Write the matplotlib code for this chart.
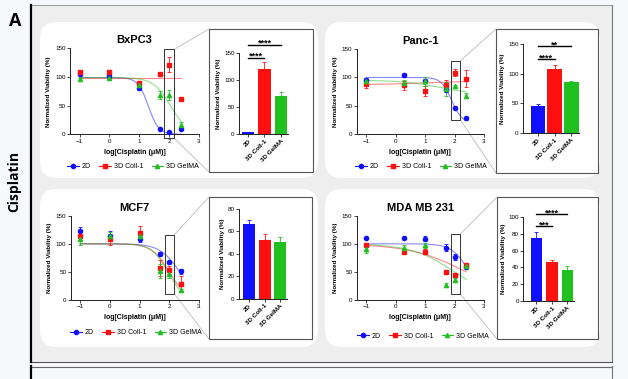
import numpy as np
import matplotlib
matplotlib.use("Agg")
import matplotlib.pyplot as plt
from matplotlib.patches import FancyBboxPatch, Rectangle
from matplotlib.lines import Line2D

plt.rcParams['font.family'] = ['Liberation Sans', 'DejaVu Sans']

W, H = 628, 379

# ---- data ----
groups = ['2D', '3D Coll-1', '3D GelMA']
colors = ['#1010ff', '#ff1010', '#20c020']
markers = ['o', 's', '^']

x_a = [-1, 0, 1, 1.7, 2, 2.4]      # BxPC3, MCF7
x_b = [-1, 0.3, 1, 1.7, 2, 2.4]    # Panc-1, MDA MB 231

bx_mean = [[105, 102, 81, 9, 4, 10],
           [109, 108, 89, 105, 121, 62],
           [96, 99, 86, 69, 69, 16]]
bx_err = [[3, 3, 3, 2, 2, 3],
          [3, 3, 4, 4, 13, 3],
          [3, 2, 3, 7, 9, 5]]
bx_fit = [(99, 0, 1.3, 2.5), (99, 99, 1.0, 1.0), (99, 0, 2.05, 1.5)]
bx_bar = [3, 121, 70]
bx_bar_err = [1, 13, 7]

pa_mean = [[95, 104, 94, 78, 47, 28],
           [88, 86, 76, 87, 108, 98],
           [93, 90, 93, 80, 85, 68]]
pa_err = [[4, 4, 3, 4, 2, 2],
          [7, 8, 9, 8, 6, 15],
          [5, 5, 8, 12, 2, 5]]
pa_fit = [(100, 20, 1.9, 2.5), (87, 94, 1.0, 0.5), (95, 70, 1.5, 0.7)]
pa_bar = [46, 108, 86]
pa_bar_err = [3, 7, 1]

mc_mean = [[123, 114, 108, 82, 67, 51],
           [114, 108, 120, 57, 53, 29],
           [108, 113, 114, 52, 46, 17]]
mc_err = [[7, 8, 5, 3, 3, 4],
          [8, 10, 12, 15, 7, 13],
          [10, 8, 6, 12, 6, 3]]
mc_fit = [(100, 0, 2.35, 1.3), (100, 0, 2.0, 1.5), (100, 0, 1.95, 1.6)]
mc_bar = [67, 52, 51]
mc_bar_err = [3, 5.5, 4]

md_mean = [[110, 110, 109, 93, 76, 59],
           [97, 86, 86, 49, 45, 63],
           [90, 92, 97, 27, 36, 60]]
md_err = [[2, 2, 4, 6, 5, 3],
          [3, 3, 4, 2, 2, 3],
          [6, 5, 4, 3, 3, 3]]
md_fit = [(100, 0, 2.5, 1.5), (100, 0, 2.4, 0.45), (100, 0, 2.0, 0.6)]
md_bar = [75, 46, 37]
md_bar_err = [7, 2.5, 5]

fig = plt.figure(figsize=(W / 100, H / 100), dpi=100)
fig.patch.set_facecolor('#f7f8fc')
T = fig.dpi_scale_trans


def P(x, y):
    return x / 100, (H - y) / 100


def add_rect(x0, y0, x1, y1, **kw):
    r = Rectangle(P(x0, y1), (x1 - x0) / 100, (y1 - y0) / 100, transform=T, **kw)
    fig.add_artist(r)


def add_line(xs, ys, **kw):
    pts = [P(a, b) for a, b in zip(xs, ys)]
    fig.add_artist(Line2D([p[0] for p in pts], [p[1] for p in pts], transform=T, **kw))


def ax_px(x0, y0, x1, y1):
    a = fig.add_axes([x0 / W, 1 - y1 / H, (x1 - x0) / W, (y1 - y0) / H])
    a.set_facecolor('none')
    return a


# frame
add_rect(30, 5, 612, 362, facecolor='#eeeeee', edgecolor='none', zorder=-5)
add_line([30, 612], [5, 5], color='#9a9a9a', lw=0.7, zorder=-4)
add_line([612, 612], [5, 362], color='#777777', lw=0.8, zorder=-4)
add_line([30, 612], [362, 362], color='#555555', lw=0.8, zorder=-4)
add_line([30.5, 30.5], [5, 362], color='black', lw=1.6, zorder=-4)
add_line([30, 612], [366.5, 366.5], color='#666666', lw=0.8, zorder=-4)
add_line([30.5, 30.5], [366, 379], color='black', lw=1.6, zorder=-4)
add_line([612, 612], [366, 379], color='#777777', lw=0.8, zorder=-4)

fig.text(*P(15, 21), 'A', transform=T, fontsize=13, weight='bold',
         ha='center', va='center', family=['Open Sans', 'DejaVu Sans'])
fig.text(*P(14, 182), 'Cisplatin', transform=T, fontsize=10, weight='bold',
         rotation=90, ha='center', va='center', family=['Open Sans', 'DejaVu Sans'])


def four_pl(x, p):
    top, bottom, logic, h = p
    return bottom + (top - bottom) / (1 + 10 ** ((x - logic) * h))


def style(ax):
    for s in ['top', 'right']:
        ax.spines[s].set_visible(False)
    for s in ['left', 'bottom']:
        ax.spines[s].set_linewidth(0.7)
        ax.spines[s].set_color('#222222')
    ax.tick_params(length=2, width=0.6, pad=1.2, labelsize=4.5, color='#222222')


def panel(box, line_rect, bar_rect, inset, title, xs, means, errs, fits,
          bar_vals, bar_errs, bar_xlim, bar_w, bar_ylim, bar_ticks, sigs,
          zoom, legend_xy):
    x0, y0, x1, y1 = box
    fig.add_artist(FancyBboxPatch(P(x0, y1), (x1 - x0) / 100, (y1 - y0) / 100,
                                  boxstyle='round,pad=0,rounding_size=0.17',
                                  transform=T, facecolor='white', edgecolor='none',
                                  zorder=-3))
    # dose response
    ax = ax_px(*line_rect)
    style(ax)
    xx = np.linspace(-1, 2.4, 200)
    for g in range(3):
        ax.plot(xx, four_pl(xx, fits[g]), color=colors[g], lw=0.8, alpha=0.5, zorder=2)
        ax.errorbar(xs, means[g], yerr=errs[g], fmt=markers[g], color=colors[g],
                    ms=3, elinewidth=0.6, capsize=1.2, capthick=0.6, clip_on=False, zorder=3)
    ax.set_xlim(-1.32, 3.0)
    ax.set_ylim(0, 150)
    ax.set_xticks([-1, 0, 1, 2, 3])
    ax.set_yticks([0, 50, 100, 150])
    ax.set_title(title, fontsize=8, weight='bold', pad=3.5)
    ax.set_xlabel('log[Cisplatin (\u03bcM)]', fontsize=5, weight='bold', labelpad=3.5)
    ax.set_ylabel('Normalized Viability (%)', fontsize=4.5, weight='bold', labelpad=3)
    zx0, zx1, zy0, zy1 = zoom
    ax.add_patch(Rectangle((zx0, zy0), zx1 - zx0, zy1 - zy0, fill=False,
                           edgecolor='#333333', lw=0.7, clip_on=False, zorder=4))
    handles = [Line2D([], [], color=colors[g], marker=markers[g], ms=3, lw=0.8)
               for g in range(3)]
    ax.legend(handles, groups, loc='center', bbox_to_anchor=(legend_xy[0] / W, 1 - legend_xy[1] / H),
              bbox_transform=fig.transFigure, ncol=3, frameon=False, fontsize=5,
              handlelength=1.7, handletextpad=0.4, columnspacing=1.2)

    # inset box and connectors
    bx0, by0, bx1, by1 = inset
    add_rect(bx0, by0, bx1, by1, facecolor='white', edgecolor='#555555', lw=0.8, zorder=-1)
    to_px = ax.transData
    fx, fy = to_px.transform((zx1, zy1))
    gx, gy = to_px.transform((zx1, zy0))
    add_line([fx, bx0], [H - fy, by0], color='#bbbbbb', lw=0.6, zorder=-2)
    add_line([gx, bx0], [H - gy, by1], color='#bbbbbb', lw=0.6, zorder=-2)

    # bar chart
    bax = ax_px(*bar_rect)
    style(bax)
    pos = np.arange(3)
    bax.bar(pos, bar_vals, width=bar_w, color=colors, zorder=2)
    for g in range(3):
        bax.errorbar(pos[g], bar_vals[g], yerr=[[0], [bar_errs[g]]], color=colors[g],
                     elinewidth=0.6, capsize=1.5, capthick=0.6, zorder=3)
    bax.set_xlim(*bar_xlim)
    bax.set_ylim(*bar_ylim)
    bax.set_yticks(bar_ticks)
    bax.set_xticks(pos)
    bax.set_xticklabels(groups, rotation=45, ha='right', rotation_mode='anchor',
                        fontsize=4.5, weight='bold')
    bax.set_ylabel('Normalized Viability (%)', fontsize=4.5, weight='bold', labelpad=2)
    for (a, b, yv, label) in sigs:
        bax.plot([a, b], [yv, yv], color='black', lw=1.0, clip_on=False, zorder=4)
        bax.annotate(label, ((a + b) / 2, yv), xytext=(0, -2.2), textcoords='offset points',
                     ha='center', va='bottom', fontsize=6.5, weight='bold',
                     annotation_clip=False)
    return ax


panel((40, 22, 318, 178), (70, 48.3, 199, 134.3), (239, 53, 288, 134), (209, 29, 313, 172),
      'BxPC3', x_a, bx_mean, bx_err, bx_fit, bx_bar, bx_bar_err,
      (-0.57, 2.45), 0.76, (0, 150), [0, 50, 100, 150],
      [(0, 1, 141, '****'), (0, 2, 165, '****')],
      (1.83, 2.17, -7, 148), (133, 167))

panel((325, 22, 600, 178), (356.7, 49, 484, 134.3), (523, 44, 579, 133), (496, 29, 598, 173),
      'Panc-1', x_b, pa_mean, pa_err, pa_fit, pa_bar, pa_bar_err,
      (-0.9, 2.45), 0.88, (0, 150), [0, 50, 100, 150],
      [(0, 1, 124, '****'), (0, 2, 146, '**')],
      (1.87, 2.19, 26, 129), (421, 167))

panel((40, 189, 318, 347), (70.7, 215.7, 199, 300), (239, 209, 287, 298.7), (209, 197, 312, 339),
      'MCF7', x_a, mc_mean, mc_err, mc_fit, mc_bar, mc_bar_err,
      (-0.62, 2.42), 0.75, (0, 80), [0, 20, 40, 60, 80],
      [],
      (1.84, 2.17, 11, 116), (136, 333))

panel((325, 189, 600, 347), (356.7, 215.7, 484, 300), (523.3, 216.7, 574, 301.3), (497, 197, 598, 339),
      'MDA MB 231', x_b, md_mean, md_err, md_fit, md_bar, md_bar_err,
      (-0.85, 2.42), 0.72, (0, 100), [0, 20, 40, 60, 80, 100],
      [(0, 1, 89, '***'), (0, 2, 103, '****')],
      (1.87, 2.19, 11, 117), (423, 336))

fig.savefig('out.png', dpi=100, facecolor=fig.get_facecolor())
